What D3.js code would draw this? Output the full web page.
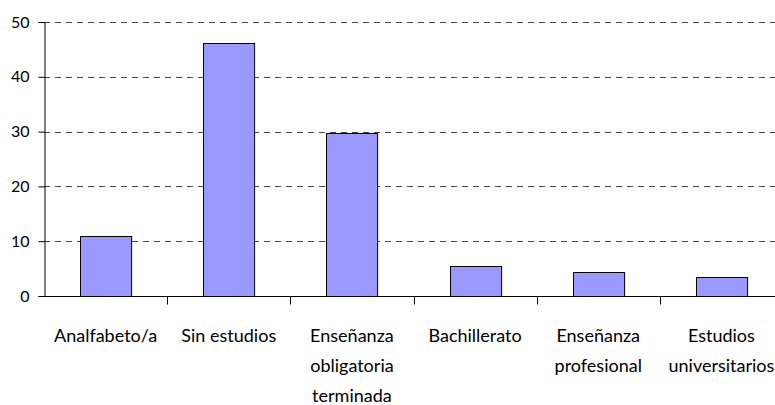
<!DOCTYPE html>
<html>
<head>
<meta charset="utf-8">
<script src="https://cdn.jsdelivr.net/npm/d3@7"></script>
<style>
  body { margin: 0; background: #fff; }
  svg text { font-family: Lato, "Open Sans", sans-serif; fill: #000; }
</style>
</head>
<body>
<svg id="chart" width="775" height="405"></svg>
<script>
// Chart data: level of studies
const categories = [
    ['Analfabeto/a'],
    ['Sin estudios'],
    ['Enseñanza', 'obligatoria', 'terminada'],
    ['Bachillerato'],
    ['Enseñanza', 'profesional'],
    ['Estudios', 'universitarios']
];
const values = [10.9, 46.2, 29.7, 5.4, 4.3, 3.4];
const yTicks = [0, 10, 20, 30, 40, 50];

const margin = {left: 44, top: 22, bottom: 109};
const plotWidth = 739;
const height = 405;

const svg = d3.select('#chart');

// Scales
const x = d3.scaleBand()
    .domain(d3.range(categories.length))
    .range([margin.left, margin.left + plotWidth])
    .paddingInner(0.585)
    .paddingOuter(0.2925);

const step = plotWidth / categories.length;

const y = d3.scaleLinear()
    .domain([0, 50])
    .range([height - margin.bottom, margin.top]);

// Dashed gridlines
svg.append('g')
    .selectAll('line')
    .data(yTicks.filter(d => d > 0))
    .join('line')
    .attr('x1', margin.left)
    .attr('x2', margin.left + plotWidth)
    .attr('y1', d => Math.round(y(d)) + 0.5)
    .attr('y2', d => Math.round(y(d)) + 0.5)
    .attr('stroke', '#444')
    .attr('stroke-dasharray', '6,5');

// Bars
svg.append('g')
    .selectAll('rect')
    .data(values)
    .join('rect')
    .attr('x', (d, i) => Math.round(x(i)) + 0.5)
    .attr('y', d => Math.round(y(d)) + 0.5)
    .attr('width', x.bandwidth())
    .attr('height', d => Math.round(y(0)) - Math.round(y(d)))
    .attr('fill', '#9999ff')
    .attr('stroke', '#000')
    .attr('stroke-width', 1);

// Y axis
const yAxis = svg.append('g')
    .attr('transform', `translate(${margin.left + 0.5},0)`)
    .call(d3.axisLeft(y).tickValues(yTicks).tickSize(6).tickPadding(9).tickFormat(d3.format('d')));
yAxis.select('.domain').attr('stroke', '#000');
yAxis.selectAll('text').attr('font-size', 16).attr('font-family', 'Lato, sans-serif');

// X axis line and ticks at category boundaries
const y0 = Math.round(y(0)) + 0.5;
svg.append('line')
    .attr('x1', margin.left)
    .attr('x2', margin.left + plotWidth)
    .attr('y1', y0)
    .attr('y2', y0)
    .attr('stroke', '#000');

svg.append('g')
    .selectAll('line')
    .data(d3.range(1, categories.length + 1))
    .join('line')
    .attr('x1', i => Math.round(margin.left + i * step) + 0.5)
    .attr('x2', i => Math.round(margin.left + i * step) + 0.5)
    .attr('y1', y0)
    .attr('y2', y0 + 8)
    .attr('stroke', '#000');

// Category labels (multi-line)
const labels = svg.append('g')
    .selectAll('text')
    .data(categories)
    .join('text')
    .attr('text-anchor', 'middle')
    .attr('font-size', 18)
    .attr('x', (d, i) => x(i) + x.bandwidth() / 2)
    .attr('y', 342);

labels.selectAll('tspan')
    .data(d => d)
    .join('tspan')
    .attr('x', function() { return d3.select(this.parentNode).attr('x'); })
    .attr('dy', (d, i) => i === 0 ? 0 : 30)
    .text(d => d);
</script>
</body>
</html>
